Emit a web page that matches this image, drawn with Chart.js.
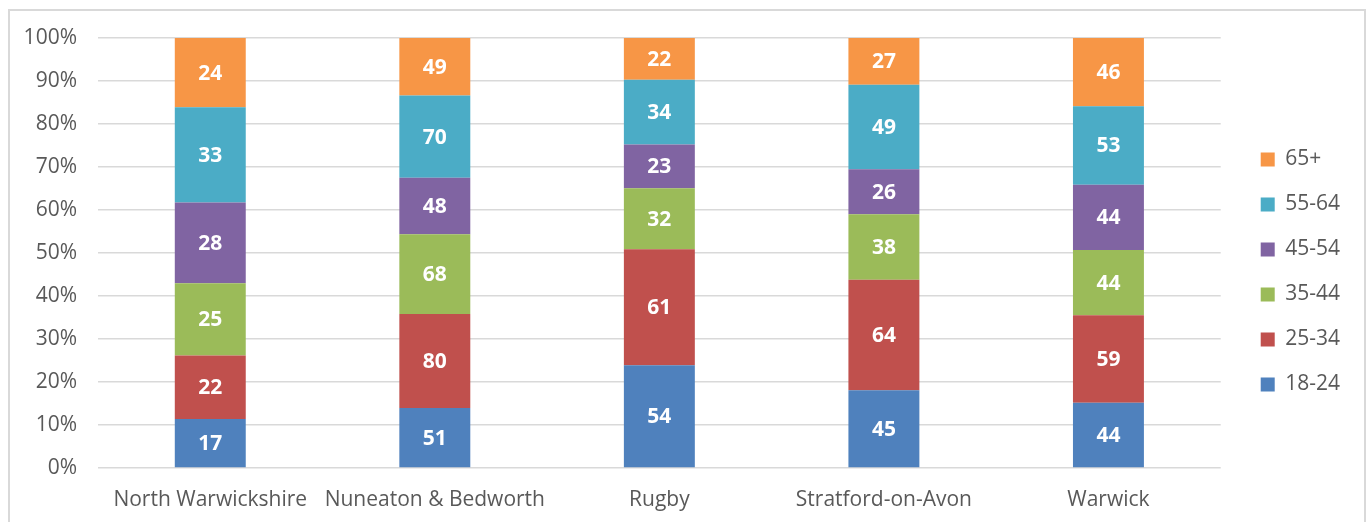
<!DOCTYPE html>
<html>
<head>
<meta charset="utf-8">
<script src="https://cdn.jsdelivr.net/npm/chart.js@4.4.1/dist/chart.umd.min.js"></script>
<style>
  html, body { margin: 0; padding: 0; background: #fff; }
  #wrap { position: relative; width: 1368px; height: 522px; overflow: hidden; }
  #frame {
    position: absolute; left: 8px; top: 9px; width: 1358px; height: 540px;
    box-sizing: border-box; border: 2px solid #d9d9d9; pointer-events: none; z-index: 2;
  }
  canvas { position: absolute; left: 0; top: 0; }
</style>
</head>
<body>
<div id="wrap">
  <div id="frame"></div>
  <canvas id="chart" width="1368" height="522"></canvas>
</div>
<script>
// districts along the x axis
const districts = ['North Warwickshire', 'Nuneaton & Bedworth', 'Rugby', 'Stratford-on-Avon', 'Warwick'];

// counts per age band (labels on bars), stacked to 100%
const age18to24 = [17, 51, 54, 45, 44];
const age25to34 = [22, 80, 61, 64, 59];
const age35to44 = [25, 68, 32, 38, 44];
const age45to54 = [28, 48, 23, 26, 44];
const age55to64 = [33, 70, 34, 49, 53];
const age65plus = [24, 49, 22, 27, 46];

const bandNames = ['18-24', '25-34', '35-44', '45-54', '55-64', '65+'];
const bandColors = ['#4f81bd', '#c0504d', '#9bbb59', '#8064a2', '#4bacc6', '#f79646'];
const yTicks = [0, 10, 20, 30, 40, 50, 60, 70, 80, 90, 100];

const bands = [age18to24, age25to34, age35to44, age45to54, age55to64, age65plus];

// totals for each district, to turn counts into shares
const totals = districts.map((d, i) => bands.reduce((s, b) => s + b[i], 0));

const FONT = '"Open Sans", "Liberation Sans", sans-serif';

const barLabels = {
    id: 'barLabels',
    afterDatasetsDraw(chart) {
        const ctx = chart.ctx;
        ctx.save();
        ctx.fillStyle = '#ffffff';
        ctx.font = 'bold 21px ' + FONT;
        ctx.textAlign = 'center';
        ctx.textBaseline = 'middle';
        chart.data.datasets.forEach((ds, di) => {
            const meta = chart.getDatasetMeta(di);
            meta.data.forEach((bar, i) => {
                const mid = (bar.y + bar.base) / 2;
                ctx.fillText(String(ds.counts[i]), bar.x, mid + 1);
            });
        });
        ctx.restore();
    }
};

// nudge the legend: a bit further from the plot and up a little
const legendShift = {
    id: 'legendShift',
    afterLayout(chart) {
        const lg = chart.legend;
        if (lg) {
            lg.left += 16;
            lg.right += 16;
            lg.top -= 8;
            lg.bottom -= 8;
        }
    }
};

const datasets = bands.map((band, k) => ({
    label: bandNames[k],
    counts: band,
    data: band.map((v, i) => v / totals[i] * 100),
    backgroundColor: bandColors[k],
    borderWidth: 0,
    barPercentage: 0.316,
    categoryPercentage: 1.0
}));

new Chart(document.getElementById('chart'), {
    type: 'bar',
    data: { labels: districts, datasets: datasets },
    plugins: [barLabels, legendShift],
    options: {
        responsive: false,
        animation: false,
        layout: { padding: { top: 38, left: 0, right: 34, bottom: 0 } },
        plugins: {
            tooltip: { enabled: false },
            legend: {
                position: 'right',
                align: 'center',
                reverse: true,
                labels: {
                    boxWidth: 14,
                    boxHeight: 14,
                    padding: 24,
                    color: '#595959',
                    font: { family: FONT, size: 21 }
                }
            }
        },
        scales: {
            x: {
                stacked: true,
                grid: { display: false },
                border: { display: false },
                ticks: {
                    color: '#595959',
                    padding: 11,
                    maxRotation: 0,
                    font: { family: FONT, size: 21 }
                },
                afterFit(scale) { scale.height = 54; }
            },
            y: {
                stacked: true,
                min: 0,
                max: 100,
                afterBuildTicks(scale) { scale.ticks = yTicks.map(v => ({ value: v })); },
                afterFit(scale) { scale.width = 98; },
                grid: { color: '#d9d9d9', lineWidth: 1.5, drawTicks: false },
                border: { display: false },
                ticks: {
                    color: '#595959',
                    padding: 21,
                    font: { family: FONT, size: 21 },
                    callback: v => v + '%'
                }
            }
        }
    }
});
</script>
</body>
</html>
